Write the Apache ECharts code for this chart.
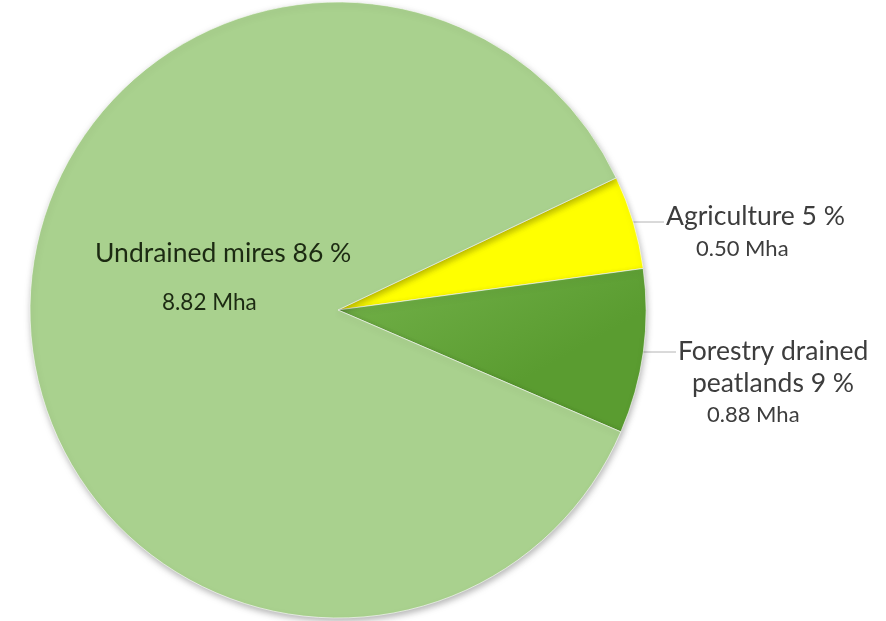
<!DOCTYPE html>
<html>
<head>
<meta charset="utf-8">
<script src="https://cdn.jsdelivr.net/npm/echarts@6/dist/echarts.min.js"></script>
<style>
  html, body { margin: 0; padding: 0; background: #ffffff; }
  #chart { width: 886px; height: 621px; }
</style>
</head>
<body>
<div id="chart"></div>
<script>
// Peatland land use, areas in million hectares
const categories = ['Agriculture', 'Forestry drained peatlands', 'Undrained mires'];
const areasMha = [0.50, 0.88, 8.82];

const total = areasMha.reduce((a, b) => a + b, 0);
const pct = v => Math.round(v / total * 100);

const CX = 338, CY = 310, R = 308;

const forestryFill = {
  type: 'linear', x: 0, y: 0, x2: 0.3, y2: 1,
  colorStops: [
    { offset: 0, color: '#74b24b' },
    { offset: 1, color: '#5a9c30' }
  ]
};
const sliceColors = ['#ffff00', forestryFill, '#a9d18e'];

const labelText = [
  (name, v) => '{t|' + name + ' ' + pct(v) + ' %}\n{v2|' + v.toFixed(2) + ' Mha}',
  (name, v) => '{t3|Forestry drained}\n{t2|peatlands ' + pct(v) + ' %}\n{v3|' + v.toFixed(2) + ' Mha}',
  (name, v) => '{u|' + name + ' ' + pct(v) + ' %}\n{u2|' + v.toFixed(2) + ' Mha}'
];

// label block top-left corners and the height of each leader line
const labelSpots = [
  { x: 666, y: 199.5, lineY: 222 },
  { x: 678, y: 336, lineY: 352 },
  { x: 95, y: 228 }
];

const chart = echarts.init(document.getElementById('chart'), null, { renderer: 'canvas' });

chart.setOption({
  animation: false,
  backgroundColor: '#ffffff',
  series: [{
    type: 'pie',
    center: [CX, CY],
    radius: R,
    startAngle: 25.4,
    clockwise: true,
    avoidLabelOverlap: false,
    data: categories.map((name, i) => ({
      name: name,
      value: areasMha[i],
      itemStyle: { color: sliceColors[i] },
      labelLine: { show: i !== 2 }
    })),
    itemStyle: {
      borderColor: 'rgba(255,255,255,0.6)',
      borderWidth: 1,
      shadowBlur: 6,
      shadowOffsetX: 1,
      shadowOffsetY: 3,
      shadowColor: 'rgba(0,0,0,0.28)'
    },
    label: {
      show: true,
      position: 'outside',
      fontFamily: 'Lato, "Open Sans", sans-serif',
      formatter: p => labelText[p.dataIndex](p.name, p.value),
      rich: {
        t:  { fontSize: 26.5, color: '#3d3d3d', lineHeight: 33 },
        v2: { fontSize: 22, color: '#3d3d3d', lineHeight: 33, padding: [0, 0, 0, 30] },
        t3: { fontSize: 26.5, color: '#3d3d3d', lineHeight: 31.5 },
        t2: { fontSize: 26.5, color: '#3d3d3d', lineHeight: 31.5, padding: [0, 0, 0, 14] },
        v3: { fontSize: 22, color: '#3d3d3d', lineHeight: 31.5, padding: [0, 0, 0, 29] },
        u:  { fontSize: 26.5, color: '#1c2a12', lineHeight: 50 },
        u2: { fontSize: 22.5, color: '#1c2a12', lineHeight: 50, padding: [0, 0, 0, 67] }
      }
    },
    labelLine: {
      show: true,
      lineStyle: { color: '#b4b4b4', width: 1 }
    },
    labelLayout: params => {
      const s = labelSpots[params.dataIndex];
      const out = { x: s.x, y: s.y, align: 'left', verticalAlign: 'top' };
      if (s.lineY !== undefined) {
        const edgeX = CX + Math.sqrt(R * R - (s.lineY - CY) * (s.lineY - CY)) - 3;
        out.labelLinePoints = [[edgeX, s.lineY], [edgeX, s.lineY], [s.x - 2, s.lineY]];
      }
      return out;
    }
  }]
});
</script>
</body>
</html>
